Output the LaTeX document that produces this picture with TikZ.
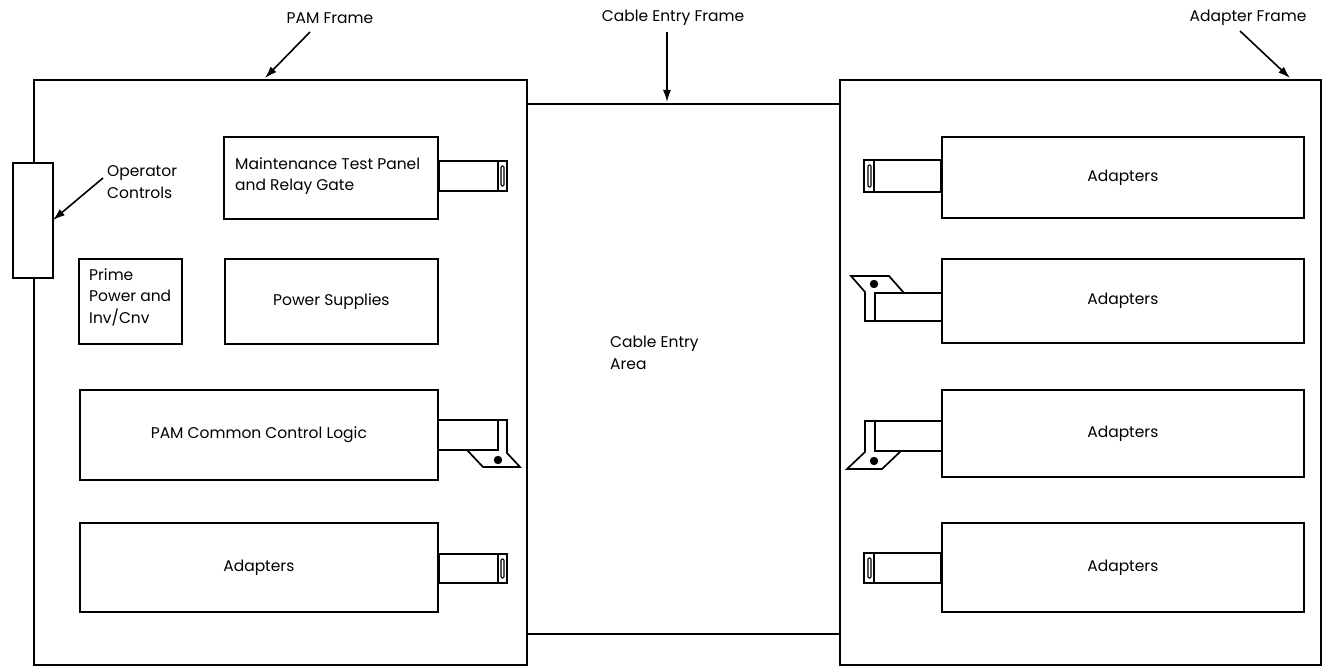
\documentclass[tikz,border=0pt]{standalone}
\usepackage{fontspec}
\setmainfont{Poppins}
\usetikzlibrary{arrows.meta}
\begin{document}
\begin{tikzpicture}[x=1pt,y=-1pt,
  box/.style={draw, line width=1.7pt, inner sep=0pt, anchor=north west, fill=white},
  lbl/.style={font=\fontsize{15.5}{21.5}\selectfont, inner sep=0pt},
  arr/.style={-{Latex[length=12pt,width=8pt]}, line width=1.6pt},
  ln/.style={line width=1.7pt, line join=miter},
  slot/.style={draw, line width=1.1pt, rounded corners=1.2pt}]
\useasboundingbox (0,0) rectangle (1334,666);
% frames
\node[box, minimum width=313, minimum height=530] (ce) at (526,103) {};
\node[box, minimum width=493, minimum height=585] (pam) at (33,79) {};
\node[box, minimum width=481, minimum height=585] (af) at (839,79) {};
\node[box, minimum width=40, minimum height=115] (op) at (12,162) {};
% left boxes
\node[box, minimum width=214, minimum height=82] (mtp) at (223,136) {};
\node[box, minimum width=103, minimum height=85] (prime) at (78,258) {};
\node[box, minimum width=213, minimum height=85] (ps) at (224,258) {};
\node[box, minimum width=358, minimum height=90] (pcl) at (79,389) {};
\node[box, minimum width=358, minimum height=89] (ad0) at (79,522) {};
% right boxes
\node[box, minimum width=362, minimum height=81] (ad1) at (941,136) {};
\node[box, minimum width=362, minimum height=84] (ad2) at (941,258) {};
\node[box, minimum width=362, minimum height=87] (ad3) at (941,389) {};
\node[box, minimum width=362, minimum height=89] (ad4) at (941,522) {};
% texts
\node[lbl] (tpam) at (330,18) {PAM Frame};
\node[lbl] (tce) at (673,18) {Cable Entry Frame};
\node[lbl] (taf) at (1248,18) {Adapter Frame};
\node[lbl, anchor=west, align=left] (top) at (107,182) {Operator\\Controls};
\node[lbl, anchor=west, align=left] (tmtp) at (235,176) {Maintenance Test Panel\\and Relay Gate};
\node[lbl, anchor=west, align=left] (tprime) at (89,297) {Prime\\Power and\\Inv/Cnv};
\node[lbl] at (ps.center) {Power Supplies};
\node[lbl, anchor=west, align=left] (tcea) at (610,353) {Cable Entry\\Area};
\node[lbl] at (pcl.center) {PAM Common Control Logic};
\node[lbl] at (ad0.center) {Adapters};
\node[lbl] at (ad1.center) {Adapters};
\node[lbl] at (ad2.center) {Adapters};
\node[lbl] at (ad3.center) {Adapters};
\node[lbl] at (ad4.center) {Adapters};
% arrows
\coordinate (apam) at (265,78);
\coordinate (ace) at (667,102);
\coordinate (aaf) at (1290,78);
\coordinate (aop) at (53,220);
\draw[arr] (310,32) -- (apam);
\draw[arr] (667,32) -- (ace);
\draw[arr] (1240,31) -- (aaf);
\draw[arr] (103,178) -- (aop);
% left handles
\draw[ln] (mtp.east |- 0,161) rectangle (507,191);
\draw[ln] (498,161) -- (498,191);
\draw[slot] (501,166) rectangle (504,186);
\draw[ln] (ad0.east |- 0,554) rectangle (507,583);
\draw[ln] (498,554) -- (498,583);
\draw[slot] (501,559) rectangle (504,578);
\draw[ln] (pcl.east |- 0,420) -- (507,420) -- (507,453) -- (520,467) -- (483,467) -- (467,450);
\draw[ln] (pcl.east |- 0,450) -- (498,450) -- (498,420);
\fill (498,460) circle (4.2);
% right handles
\draw[ln] (864,160) rectangle (ad1.west |- 0,192);
\draw[ln] (874,160) -- (874,192);
\draw[slot] (868,165) rectangle (871,187);
\draw[ln] (864,553) rectangle (ad4.west |- 0,583);
\draw[ln] (874,553) -- (874,583);
\draw[slot] (868,558) rectangle (871,578);
\draw[ln] (ad2.west |- 0,321) -- (865,321) -- (865,292) -- (851,276) -- (889,276) -- (904,293);
\draw[ln] (ad2.west |- 0,293) -- (875,293) -- (875,321);
\fill (874,284) circle (4.2);
\draw[ln] (ad3.west |- 0,421) -- (865,421) -- (865,452) -- (847,469) -- (882,469) -- (901,451);
\draw[ln] (ad3.west |- 0,451) -- (875,451) -- (875,421);
\fill (874,461) circle (4.2);
\end{tikzpicture}
\end{document}
